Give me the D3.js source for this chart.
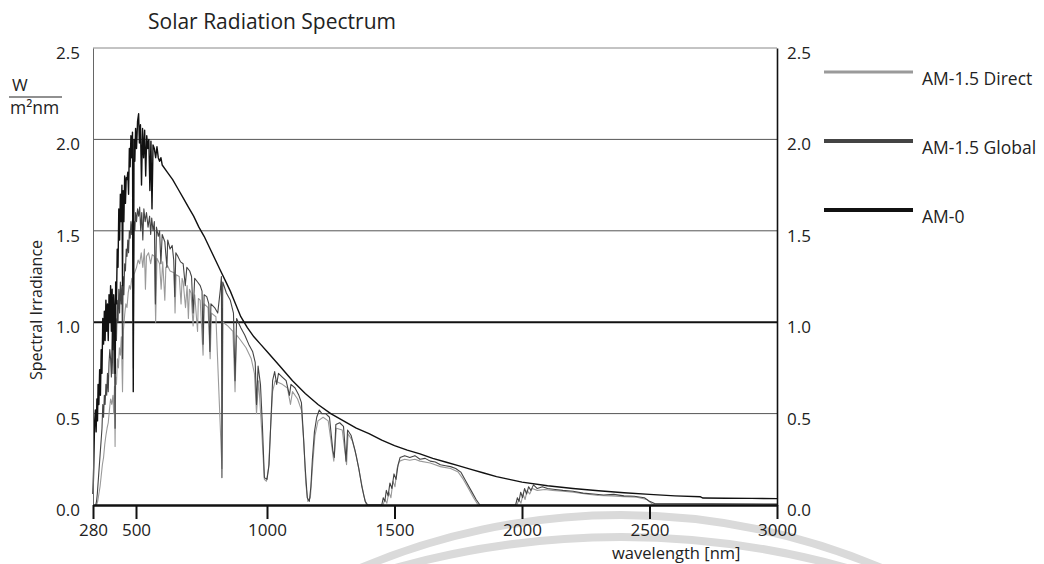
<!DOCTYPE html>
<html>
<head>
<meta charset="utf-8">
<script src="https://cdn.jsdelivr.net/npm/d3@7"></script>
<style>
    body { margin: 0; background: #fff; }
    #chart-area { width: 1044px; height: 564px; }
    text { font-family: "Open Sans", sans-serif; fill: #222; }
</style>
</head>
<body>
<div id="chart-area"></div>
<script>

// wavelength [nm], spectral irradiance [W/m2nm]
const directData = [
    [298,0],[304,0.02],[310,0.06],[316,0.1],[322,0.16],[328,0.22],[334,0.26],[340,0.33],[346,0.38],[352,0.42],
    [358,0.45],[364,0.52],[370,0.58],[376,0.55],[382,0.6],[386,0.5],[390,0.65],[393,0.32],[396,0.7],[400,0.66],
    [405,0.8],[410,0.75],[415,0.86],[420,0.82],[425,0.92],[431,0.62],[436,0.96],[442,1.04],[448,1.1],[454,1.08],
    [460,1.16],[466,1.2],[472,1.18],[478,1.24],[482,1.22],[486,0.75],[490,1.26],[496,1.28],[502,1.3],[508,1.34],
    [514,1.32],[520,1.38],[526,1.3],[532,1.4],[536,1.18],[540,1.36],[548,1.38],[556,1.32],[562,1.37],[570,1.36],
    [575,1.0],[580,1.35],[590,1.32],[596,1.18],[602,1.33],[610,1.12],[614,1.3],[620,1.31],[630,1.28],[645,1.27],
    [649,1.05],[653,1.26],[665,1.25],[672,1.1],[676,1.24],[680,1.22],[689,1.08],[695,1.2],[700,1.02],[704,1.18],
    [710,1.16],[718,0.98],[724,1.15],[735,0.95],[738,1.13],[745,1.12],[756,0.82],[760,1.1],[775,1.08],[783,0.8],
    [788,1.05],[805,1.03],[828,0.2],[832,1.0],[850,0.98],[870,0.95],[878,0.62],[884,0.93],[900,0.9],[920,0.86],
    [940,0.8],[952,0.72],[960,0.5],[968,0.68],[980,0.4],[990,0.14],[998,0.13],[1006,0.2],[1014,0.42],[1022,0.62],
    [1032,0.68],[1045,0.67],[1060,0.66],[1080,0.64],[1092,0.55],[1100,0.62],[1120,0.58],[1135,0.52],[1144,0.35],[1152,0.12],
    [1160,0.02],[1170,0.04],[1178,0.2],[1188,0.38],[1200,0.46],[1220,0.48],[1240,0.46],[1262,0.24],[1272,0.42],[1295,0.41],
    [1312,0.22],[1318,0.39],[1335,0.35],[1350,0.27],[1365,0.16],[1380,0.05],[1390,0],[1455,0],[1462,0.03],[1470,0.01],
    [1478,0.07],[1486,0.04],[1494,0.13],[1502,0.1],[1510,0.2],[1520,0.24],[1540,0.25],[1560,0.245],[1580,0.25],[1600,0.24],
    [1640,0.23],[1680,0.21],[1720,0.2],[1750,0.18],[1770,0.14],[1790,0.09],[1810,0.04],[1828,0],[1980,0],[1988,0.03],
    [1996,0.01],[2004,0.06],[2012,0.03],[2020,0.08],[2030,0.06],[2040,0.09],[2060,0.08],[2090,0.085],[2120,0.08],[2160,0.075],
    [2200,0.07],[2250,0.06],[2300,0.052],[2350,0.05],[2400,0.046],[2450,0.042],[2490,0.03],[2510,0.006],[3000,0.004]
];

const globalData = [
    [294,0],[298,0.02],[302,0.06],[306,0.12],[310,0.18],[314,0.24],[318,0.3],[322,0.36],[326,0.42],[330,0.55],
    [334,0.48],[338,0.6],[342,0.55],[346,0.66],[350,0.6],[354,0.72],[358,0.62],[362,0.78],[366,0.85],[370,0.8],
    [374,0.7],[378,0.95],[382,0.72],[386,0.98],[390,0.9],[393,0.42],[396,1.02],[400,0.9],[404,1.12],[408,1.0],
    [412,1.18],[416,1.05],[420,1.22],[424,1.1],[428,1.2],[431,0.8],[434,1.25],[438,1.15],[442,1.32],[446,1.28],
    [450,1.4],[454,1.36],[458,1.45],[462,1.38],[466,1.5],[470,1.46],[474,1.55],[478,1.48],[482,1.56],[486,1.0],
    [490,1.55],[494,1.5],[498,1.6],[502,1.55],[506,1.62],[510,1.58],[514,1.63],[518,1.5],[522,1.6],[526,1.45],
    [530,1.62],[535,1.55],[540,1.6],[546,1.52],[552,1.58],[556,1.48],[560,1.57],[565,1.5],[570,1.55],[574,1.1],
    [578,1.52],[585,1.47],[590,1.5],[595,1.32],[600,1.48],[610,1.44],[618,1.3],[621,1.45],[630,1.4],[638,1.42],
    [644,1.34],[648,1.14],[652,1.38],[660,1.36],[670,1.33],[680,1.32],[688,1.2],[694,1.3],[705,1.28],[712,1.25],
    [718,1.05],[724,1.24],[735,1.22],[745,1.2],[752,1.17],[756,0.88],[760,1.15],[770,1.14],[778,1.1],[782,0.84],
    [786,1.1],[800,1.08],[812,1.05],[822,1.18],[826,1.25],[828,0.15],[831,1.22],[845,1.16],[860,1.12],[872,1.05],
    [878,0.68],[884,1.02],[900,0.97],[915,0.93],[930,0.88],[945,0.84],[955,0.78],[960,0.55],[966,0.76],[975,0.66],
    [982,0.45],[990,0.15],[1000,0.14],[1008,0.22],[1015,0.45],[1022,0.68],[1030,0.73],[1038,0.66],[1045,0.72],[1060,0.7],
    [1075,0.68],[1088,0.6],[1094,0.66],[1110,0.64],[1125,0.6],[1135,0.56],[1142,0.4],[1150,0.2],[1158,0.04],[1166,0.02],
    [1172,0.1],[1178,0.25],[1186,0.4],[1195,0.48],[1205,0.52],[1215,0.5],[1230,0.5],[1245,0.48],[1258,0.3],[1264,0.26],
    [1270,0.44],[1285,0.45],[1300,0.43],[1310,0.24],[1316,0.41],[1330,0.38],[1345,0.3],[1360,0.2],[1372,0.1],[1385,0.02],
    [1395,0],[1450,0],[1456,0.04],[1462,0.02],[1468,0.08],[1475,0.05],[1482,0.12],[1490,0.09],[1498,0.17],[1506,0.14],
    [1514,0.22],[1522,0.26],[1540,0.27],[1560,0.26],[1580,0.27],[1600,0.25],[1620,0.255],[1640,0.24],[1660,0.235],[1680,0.22],
    [1700,0.215],[1720,0.21],[1740,0.2],[1760,0.18],[1780,0.13],[1800,0.08],[1820,0.03],[1835,0],[1975,0],[1982,0.04],
    [1988,0.02],[1995,0.07],[2002,0.04],[2010,0.09],[2018,0.06],[2026,0.1],[2035,0.08],[2045,0.11],[2060,0.09],[2080,0.1],
    [2100,0.09],[2130,0.085],[2160,0.08],[2200,0.075],[2240,0.065],[2280,0.06],[2320,0.055],[2360,0.058],[2400,0.05],[2440,0.048],
    [2480,0.04],[2500,0.02],[2520,0.008],[3000,0.005]
];

const am0Data = [
    [280,0.06],[284,0.22],[288,0.45],[292,0.52],[296,0.4],[300,0.58],[303,0.46],[306,0.66],[310,0.55],[314,0.74],
    [318,0.6],[322,0.85],[326,0.72],[330,1.02],[334,0.88],[338,1.06],[342,0.9],[346,1.12],[350,0.95],[354,1.1],
    [358,0.9],[362,1.15],[366,1.0],[370,1.2],[374,0.95],[378,1.18],[382,0.85],[386,1.15],[390,1.05],[393,0.72],
    [396,1.22],[400,1.1],[404,1.4],[408,1.3],[412,1.62],[416,1.45],[420,1.7],[424,1.55],[428,1.75],[431,1.2],
    [434,1.72],[438,1.55],[442,1.8],[446,1.65],[450,1.79],[454,1.78],[458,1.82],[462,1.7],[466,1.95],[470,1.85],
    [474,2.02],[478,1.9],[482,2.04],[486,0.62],[490,2.0],[494,1.88],[498,2.06],[502,1.95],[506,2.1],[510,2.14],
    [513,1.98],[517,2.08],[521,1.75],[525,2.06],[529,1.9],[533,2.05],[537,1.8],[541,2.02],[545,1.95],[549,2.0],
    [553,1.72],[557,1.99],[561,1.62],[565,1.97],[570,1.95],[575,1.9],[580,1.96],[585,1.9],[590,1.88],[595,1.9],
    [600,1.86],[620,1.82],[640,1.78],[660,1.73],[680,1.68],[700,1.63],[720,1.58],[740,1.52],[760,1.47],[780,1.41],
    [800,1.35],[820,1.29],[840,1.23],[860,1.17],[880,1.1],[900,1.03],[925,0.97],[950,0.92],[975,0.88],[1000,0.84],
    [1050,0.76],[1100,0.68],[1150,0.61],[1200,0.55],[1250,0.5],[1300,0.46],[1350,0.42],[1400,0.39],[1450,0.355],[1500,0.325],
    [1550,0.3],[1600,0.28],[1650,0.255],[1700,0.235],[1750,0.215],[1800,0.195],[1850,0.175],[1900,0.155],[1950,0.14],[2000,0.125],
    [2100,0.105],[2200,0.09],[2300,0.078],[2400,0.067],[2500,0.058],[2600,0.05],[2700,0.045],[2710,0.038],[2800,0.037],[2900,0.036],
    [3000,0.035]
];

const seriesNames = ["AM-1.5 Direct", "AM-1.5 Global", "AM-0"];
const seriesColors = ["#9a9a9a", "#444444", "#111111"];
const xTickValues = [280, 500, 1000, 1500, 2000, 2500, 3000];
const yTickValues = [0, 0.5, 1.0, 1.5, 2.0, 2.5];


class SpectrumVis {

    constructor(_parentElement, _data) {
        this.parentElement = _parentElement;
        this.data = _data;
        this.initVis();
    }

    initVis() {
        let vis = this;
        vis.margin = { top: 48, right: 267, bottom: 59, left: 93 };
        vis.width = 1044 - vis.margin.left - vis.margin.right;
        vis.height = 564 - vis.margin.top - vis.margin.bottom;

        vis.root = d3.select("#" + vis.parentElement).append("svg")
            .attr("width", 1044)
            .attr("height", 564);

        // faint watermark rings behind the chart
        vis.root.append("path")
            .attr("transform", "translate(621,1182)")
            .attr("d", d3.arc()({ innerRadius: 663, outerRadius: 671, startAngle: -0.42, endAngle: 0.42 }))
            .attr("fill", "#dadada");
        vis.root.append("path")
            .attr("transform", "translate(621,1375)")
            .attr("d", d3.arc()({ innerRadius: 834, outerRadius: 842, startAngle: -0.28, endAngle: 0.28 }))
            .attr("fill", "#dadada");

        vis.svg = vis.root.append("g")
            .attr("transform", "translate(" + vis.margin.left + "," + vis.margin.top + ")");

        // the axis is squeezed below 500 nm in the original
        vis.x = d3.scaleLinear()
            .domain([280, 500, 1000, 3000])
            .range([0, 43, 174, vis.width]);

        vis.y = d3.scaleLinear()
            .domain([0, 2.5])
            .range([vis.height, 0]);

        vis.line = d3.line()
            .x(d => vis.x(d[0]))
            .y(d => vis.y(d[1]));

        vis.wrangleData();
    }

    wrangleData() {
        let vis = this;
        vis.displayData = vis.data.map((values, i) => ({
            name: seriesNames[i],
            color: seriesColors[i],
            values: values
        }));
        vis.updateVis();
    }

    updateVis() {
        let vis = this;

        // grid lines
        vis.svg.selectAll(".grid")
            .data(yTickValues.filter(d => d > 0))
            .join("line")
            .attr("class", "grid")
            .attr("x1", 0)
            .attr("x2", vis.width)
            .attr("y1", d => vis.y(d))
            .attr("y2", d => vis.y(d))
            .attr("stroke", d => d == 1.0 ? "#111" : (d == 2.5 ? "#888" : "#555"))
            .attr("stroke-width", d => d == 1.0 ? 2 : 1);

        // spectra
        vis.svg.selectAll(".spectrum")
            .data(vis.displayData)
            .join("path")
            .attr("class", "spectrum")
            .attr("d", d => vis.line(d.values))
            .attr("fill", "none")
            .attr("stroke", d => d.color)
            .attr("stroke-width", (d, i) => i == 2 ? 1.4 : 1.1)
            .attr("stroke-linejoin", "round");

        // axes
        let fmt = d3.format(".1f");
        let leftAxis = vis.svg.append("g")
            .call(d3.axisLeft(vis.y).tickValues(yTickValues).tickSize(0).tickPadding(13).tickFormat(fmt));
        leftAxis.select(".domain").attr("stroke", "#666").attr("stroke-width", 1);

        let rightAxis = vis.svg.append("g")
            .attr("transform", "translate(" + vis.width + ",0)")
            .call(d3.axisRight(vis.y).tickValues(yTickValues).tickSize(0).tickPadding(10).tickFormat(fmt));
        rightAxis.select(".domain").attr("stroke", "#111").attr("stroke-width", 1.6);

        [leftAxis, rightAxis].forEach(a => {
            a.selectAll("text")
                .attr("dy", "0.62em")
                .style("font-size", "17px")
                .style("font-family", '"Open Sans", sans-serif')
                .attr("fill", "#222");
        });

        let bottomAxis = vis.svg.append("g")
            .attr("transform", "translate(0," + vis.height + ")")
            .call(d3.axisBottom(vis.x).tickValues(xTickValues).tickSize(14).tickSizeOuter(0).tickPadding(5).tickFormat(d3.format("d")));
        bottomAxis.select(".domain").attr("stroke", "#111").attr("stroke-width", 2.5);
        bottomAxis.selectAll(".tick line").attr("stroke", "#111").attr("stroke-width", 2);
        bottomAxis.selectAll("text")
            .style("font-size", "17px")
            .style("font-family", '"Open Sans", sans-serif')
            .attr("fill", "#222");

        // titles
        vis.root.append("text")
            .attr("x", 148)
            .attr("y", 29)
            .style("font-size", "21px")
            .text("Solar Radiation Spectrum");

        vis.root.append("text")
            .attr("transform", "translate(42,310) rotate(-90)")
            .attr("text-anchor", "middle")
            .style("font-size", "16px")
            .text("Spectral Irradiance");

        vis.root.append("text")
            .attr("x", 612)
            .attr("y", 559)
            .style("font-size", "16.5px")
            .text("wavelength [nm]");

        // unit W / m2nm
        vis.root.append("text")
            .attr("x", 12)
            .attr("y", 91)
            .style("font-size", "17px")
            .text("W");
        vis.root.append("line")
            .attr("x1", 9).attr("x2", 62)
            .attr("y1", 97).attr("y2", 97)
            .attr("stroke", "#222")
            .attr("stroke-width", 1.2);
        vis.root.append("text")
            .attr("x", 10)
            .attr("y", 114)
            .style("font-size", "17.5px")
            .text("m²nm");

        // legend
        let legend = vis.root.append("g")
            .attr("transform", "translate(824,72)");
        let items = legend.selectAll(".legendItem")
            .data(vis.displayData)
            .join("g")
            .attr("class", "legendItem")
            .attr("transform", (d, i) => "translate(0," + (i * 69) + ")");
        items.append("line")
            .attr("x1", 0).attr("x2", 89)
            .attr("stroke", d => d.color)
            .attr("stroke-width", (d, i) => i == 0 ? 3 : 4);
        items.append("text")
            .attr("x", 98)
            .attr("y", 7)
            .attr("dy", "0.35em")
            .style("font-size", "17.5px")
            .text(d => d.name);
    }
}

new SpectrumVis("chart-area", [directData, globalData, am0Data]);

</script>
</body>
</html>
